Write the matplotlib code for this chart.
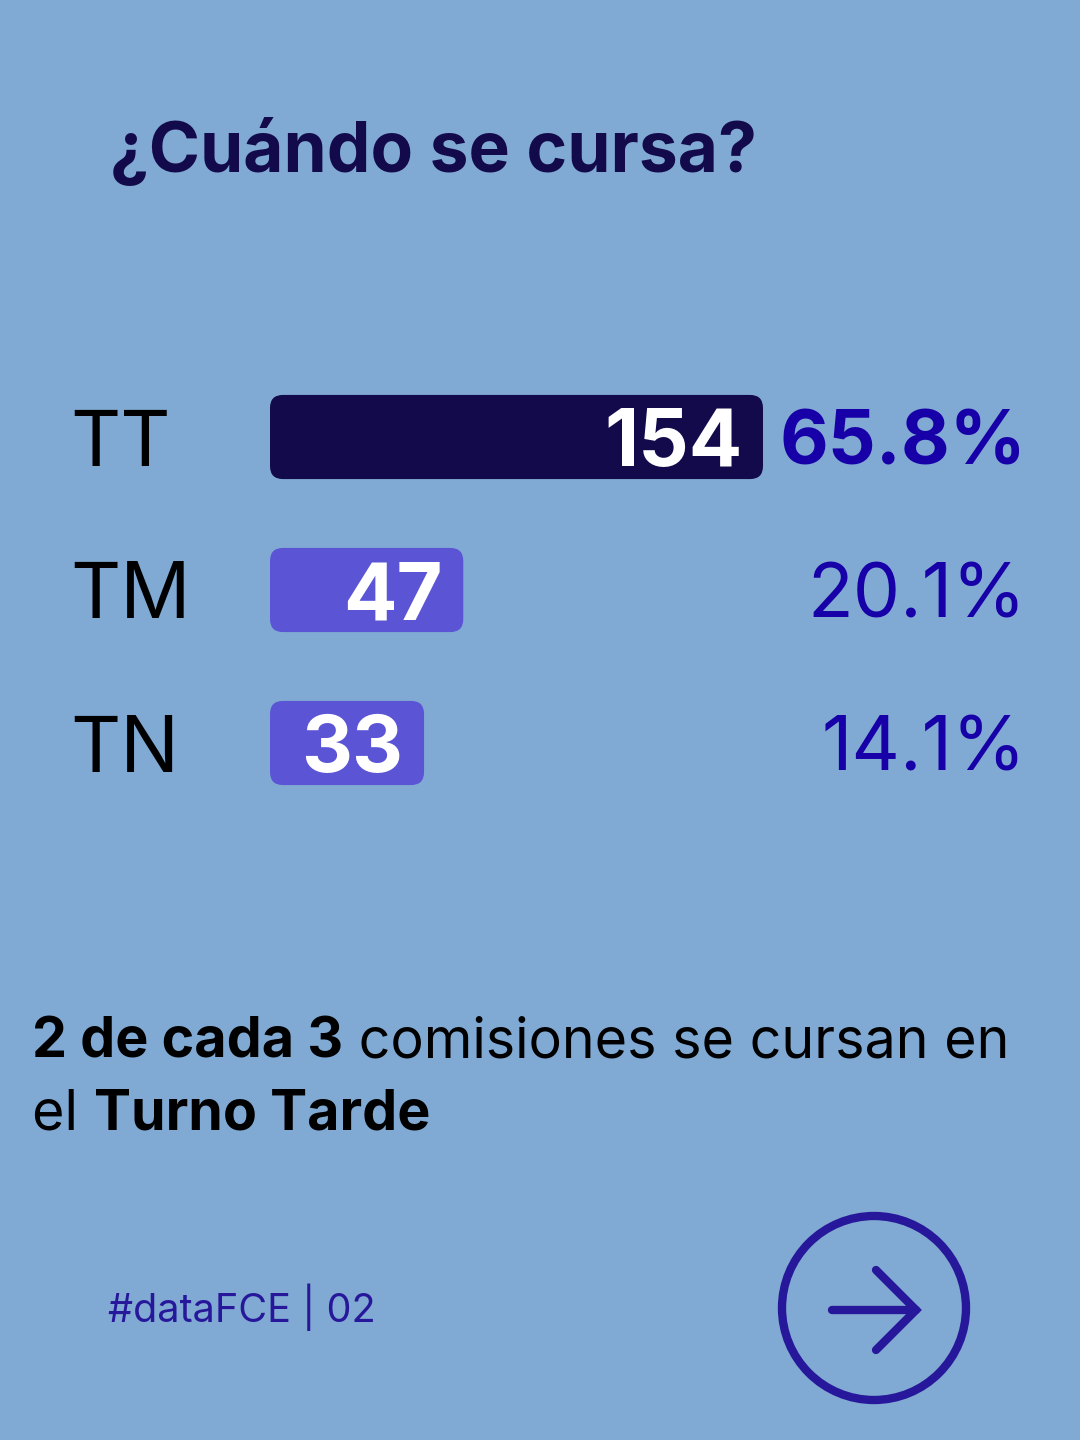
import matplotlib; matplotlib.use("Agg")
import matplotlib.pyplot as plt
from matplotlib.patches import FancyBboxPatch, Circle
from matplotlib.transforms import blended_transform_factory

# data
turnos = ["TT", "TM", "TN"]
comisiones = [154, 47, 33]
porcentajes = ["65.8%", "20.1%", "14.1%"]
destacado = [True, False, False]

titulo = "¿Cuándo se cursa?"
frase = [[("2 de cada 3", "bold"), (" comisiones se cursan en", "normal")],
         [("el ", "normal"), ("Turno Tarde", "bold")]]
pie = "#dataFCE | 02"

BG = "#80AAD3"
NAVY = "#130A4C"
LILA = "#5B55D6"
AZUL = "#1800A8"
FOOT = "#27179A"
BASE = 22          # bars start a bit left of zero so small values still fit their label

plt.rcParams["font.family"] = ["Inter", "DejaVu Sans"]

W, H = 1080, 1440
fig = plt.figure(figsize=(W / 100, H / 100), dpi=100, facecolor=BG)

# pixel overlay for free text and decorations
deco = fig.add_axes([0, 0, 1, 1]); deco.set_xlim(0, W); deco.set_ylim(H, 0); deco.axis("off")

# data axes for the bars: -BASE sits at px 270, 154 at px 763
ppu = (763 - 270) / (154 + BASE)
ax = fig.add_axes([0, 0, 1, 1], facecolor="none")
ax.set_xlim(-BASE - 270 / ppu, 154 + (W - 763) / ppu)
ax.set_ylim((H - 437) / 153, -437 / 153)
ax.axis("off")

ys = range(len(turnos))
bars = ax.barh(ys, [v + BASE for v in comisiones], left=-BASE, height=0.55,
               color=[NAVY if d else LILA for d in destacado])
mix = blended_transform_factory(ax.transAxes, ax.transData)
# swap the square bars for rounded ones
ypu = 153  # px per y unit
for b in bars:
    b.set_visible(False)
    ax.add_patch(FancyBboxPatch((b.get_x(), b.get_y()), b.get_width(), b.get_height(),
                                boxstyle="round,pad=0,rounding_size=%f" % (13 / ppu),
                                mutation_aspect=ppu / ypu,
                                fc=b.get_facecolor(), ec="none"))

for i, (t, v, p, d) in enumerate(zip(turnos, comisiones, porcentajes, destacado)):
    ax.text(70 / W, i, t, transform=mix, ha="left", va="center_baseline",
            fontsize=56, color="black")
    ax.annotate(str(v), (v, i), xytext=(-15, 0), textcoords="offset points",
                ha="right", va="center_baseline", fontsize=57, fontweight="bold", color="white")
    ax.text(1026 / W, i, p, transform=mix, ha="right", va="center_baseline",
            fontsize=54, fontweight="bold" if d else "normal", color=AZUL)

deco.text(110, 172, titulo, fontsize=50, fontweight="bold", color=NAVY, va="baseline")

# mixed weight sentence
fig.canvas.draw()
rend = fig.canvas.get_renderer()
for k, linea in enumerate(frase):
    x = 32
    for s, w in linea:
        t = deco.text(x, 1058 + 72 * k, s, fontsize=40, fontweight=w, color="black", va="baseline")
        x += t.get_window_extent(rend).width

deco.text(108, 1322, pie, fontsize=28.5, color=FOOT, va="baseline")

deco.add_patch(Circle((874, 1308), 92, fill=False, ec=FOOT, lw=6))
deco.plot([832, 916], [1310, 1310], color=FOOT, lw=6, solid_capstyle="round")
deco.plot([876, 916, 876], [1270, 1310, 1350], color=FOOT, lw=6,
          solid_capstyle="round", solid_joinstyle="miter")

fig.savefig("out.png", dpi=100, facecolor=BG)
